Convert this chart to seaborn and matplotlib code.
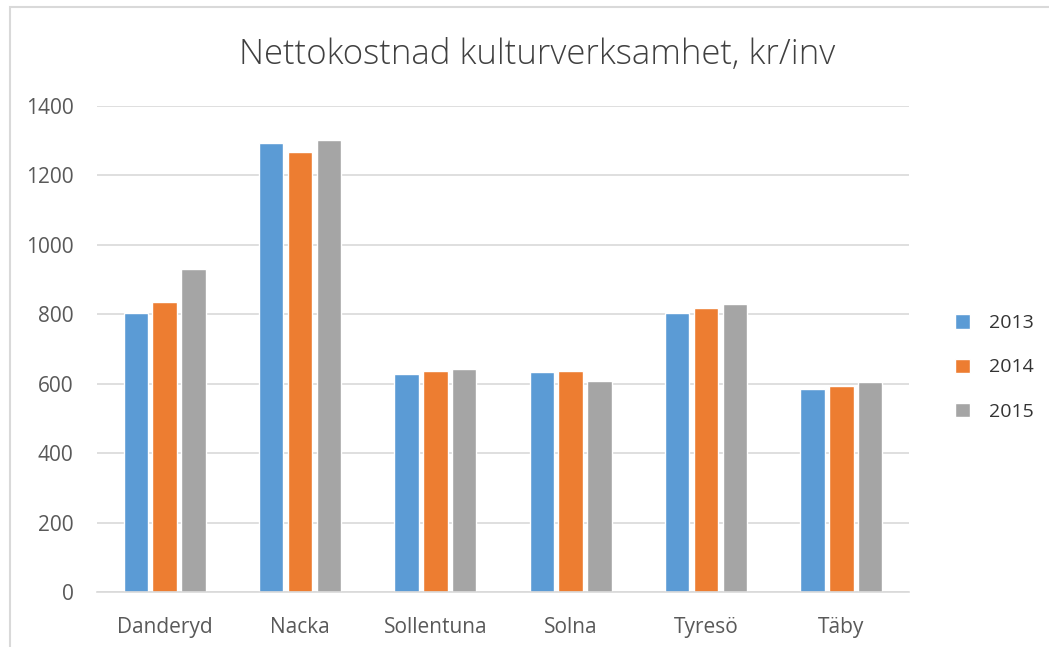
import matplotlib
matplotlib.use("Agg")
import matplotlib.pyplot as plt
import seaborn as sns
import pandas as pd
from matplotlib.patches import Rectangle

categories = ["Danderyd", "Nacka", "Sollentuna", "Solna", "Tyresö", "Täby"]
years = ["2013", "2014", "2015"]
v2013 = [803, 1294, 627, 634, 803, 586]
v2014 = [835, 1268, 638, 637, 817, 593]
v2015 = [931, 1301, 642, 608, 829, 604]
yticks = [0, 200, 400, 600, 800, 1000, 1200, 1400]
title = "Nettokostnad kulturverksamhet, kr/inv"

colors = ["#5B9BD5", "#ED7D31", "#A5A5A5"]
text_color = "#595959"

rows = []
for yr, vals in zip(years, [v2013, v2014, v2015]):
    for c, v in zip(categories, vals):
        rows.append({"Kommun": c, "År": yr, "Värde": v})
df = pd.DataFrame(rows)

sns.set_theme(style="white")
plt.rcParams["font.family"] = ["Open Sans", "DejaVu Sans"]

fig = plt.figure(figsize=(10.49, 6.47), dpi=100)
ax = fig.add_axes([97 / 1049, 55 / 647, (909 - 97) / 1049, (592 - 106) / 647])

sns.barplot(data=df, x="Kommun", y="Värde", hue="År", palette=colors,
            width=0.64, gap=0.15, ax=ax, saturation=1, legend=True)

ax.set_ylim(0, 1400)
ax.set_xlim(-0.5, len(categories) - 0.5)
ax.set_yticks(yticks)
ax.set_yticklabels([str(t) for t in yticks])
ax.yaxis.grid(True, color="#D9D9D9", linewidth=1.2)
ax.set_axisbelow(True)
for s in ["top", "right", "left"]:
    ax.spines[s].set_visible(False)
ax.spines["bottom"].set_color("#D9D9D9")
ax.spines["bottom"].set_linewidth(1.2)
ax.tick_params(axis="both", length=0, labelsize=15, colors=text_color)
ax.tick_params(axis="y", pad=17)
ax.tick_params(axis="x", pad=18)
ax.set_xlabel("")
ax.set_ylabel("")

leg = ax.legend(loc="center left", bbox_to_anchor=(1.035, 0.462), frameon=False,
                fontsize=14, handlelength=0.75, handleheight=0.75,
                labelspacing=1.35, handletextpad=1.0)
for t in leg.get_texts():
    t.set_color("#333333")

fig.text(537 / 1049, 1 - 55 / 647, title, ha="center", va="center", fontsize=25,
         color="#404040", fontweight="light")

fig.patches.append(Rectangle((10 / 1049, -0.1), 1.2, (1 - 7 / 647) + 0.1,
                             transform=fig.transFigure, fill=False,
                             edgecolor="#D9D9D9", linewidth=1.5))

fig.savefig("out.png", dpi=100)
